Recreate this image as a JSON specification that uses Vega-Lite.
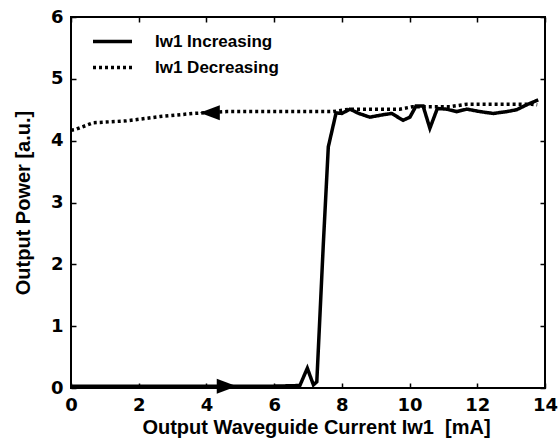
{
  "$schema": "https://vega.github.io/schema/vega-lite/v6.json",
  "autosize": {"type": "none"},
  "padding": {"left": 71, "top": 17, "right": 13, "bottom": 55},
  "width": 474,
  "height": 371,
  "background": "white",
  "config": {
    "view": {"stroke": "black", "strokeWidth": 2},
    "font": "Liberation Sans",
    "axis": {
      "domain": false,
      "grid": false,
      "tickColor": "black",
      "tickWidth": 1.5,
      "tickSize": -5,
      "labelFont": "DejaVu Sans",
      "labelFontWeight": "bold",
      "labelFontSize": 18,
      "labelColor": "black",
      "titleFont": "Liberation Sans",
      "titleFontWeight": "bold",
      "titleFontSize": 20,
      "titleColor": "black"
    }
  },
  "datasets": {
    "curves": [
      {"x": 0, "y": 0.03, "s": "Iw1 Increasing"},
      {"x": 1, "y": 0.03, "s": "Iw1 Increasing"},
      {"x": 2, "y": 0.03, "s": "Iw1 Increasing"},
      {"x": 3, "y": 0.03, "s": "Iw1 Increasing"},
      {"x": 4, "y": 0.03, "s": "Iw1 Increasing"},
      {"x": 5, "y": 0.03, "s": "Iw1 Increasing"},
      {"x": 6, "y": 0.03, "s": "Iw1 Increasing"},
      {"x": 6.76, "y": 0.04, "s": "Iw1 Increasing"},
      {"x": 6.98, "y": 0.32, "s": "Iw1 Increasing"},
      {"x": 7.16, "y": 0.05, "s": "Iw1 Increasing"},
      {"x": 7.26, "y": 0.1, "s": "Iw1 Increasing"},
      {"x": 7.45, "y": 2.3, "s": "Iw1 Increasing"},
      {"x": 7.6, "y": 3.9, "s": "Iw1 Increasing"},
      {"x": 7.83, "y": 4.45, "s": "Iw1 Increasing"},
      {"x": 8.0, "y": 4.44, "s": "Iw1 Increasing"},
      {"x": 8.24, "y": 4.51, "s": "Iw1 Increasing"},
      {"x": 8.5, "y": 4.44, "s": "Iw1 Increasing"},
      {"x": 8.83, "y": 4.38, "s": "Iw1 Increasing"},
      {"x": 9.22, "y": 4.42, "s": "Iw1 Increasing"},
      {"x": 9.47, "y": 4.44, "s": "Iw1 Increasing"},
      {"x": 9.81, "y": 4.33, "s": "Iw1 Increasing"},
      {"x": 10.01, "y": 4.38, "s": "Iw1 Increasing"},
      {"x": 10.19, "y": 4.56, "s": "Iw1 Increasing"},
      {"x": 10.4, "y": 4.56, "s": "Iw1 Increasing"},
      {"x": 10.6, "y": 4.2, "s": "Iw1 Increasing"},
      {"x": 10.82, "y": 4.52, "s": "Iw1 Increasing"},
      {"x": 11.09, "y": 4.51, "s": "Iw1 Increasing"},
      {"x": 11.39, "y": 4.47, "s": "Iw1 Increasing"},
      {"x": 11.69, "y": 4.51, "s": "Iw1 Increasing"},
      {"x": 12.08, "y": 4.47, "s": "Iw1 Increasing"},
      {"x": 12.47, "y": 4.44, "s": "Iw1 Increasing"},
      {"x": 12.87, "y": 4.47, "s": "Iw1 Increasing"},
      {"x": 13.16, "y": 4.5, "s": "Iw1 Increasing"},
      {"x": 13.46, "y": 4.58, "s": "Iw1 Increasing"},
      {"x": 13.8, "y": 4.66, "s": "Iw1 Increasing"},
      {"x": 0, "y": 4.17, "s": "Iw1 Decreasing"},
      {"x": 0.12, "y": 4.18, "s": "Iw1 Decreasing"},
      {"x": 0.66, "y": 4.29, "s": "Iw1 Decreasing"},
      {"x": 1.64, "y": 4.32, "s": "Iw1 Decreasing"},
      {"x": 2.63, "y": 4.39, "s": "Iw1 Decreasing"},
      {"x": 3.61, "y": 4.44, "s": "Iw1 Decreasing"},
      {"x": 4.6, "y": 4.47, "s": "Iw1 Decreasing"},
      {"x": 6, "y": 4.47, "s": "Iw1 Decreasing"},
      {"x": 7.06, "y": 4.47, "s": "Iw1 Decreasing"},
      {"x": 7.74, "y": 4.47, "s": "Iw1 Decreasing"},
      {"x": 8.24, "y": 4.51, "s": "Iw1 Decreasing"},
      {"x": 9.71, "y": 4.51, "s": "Iw1 Decreasing"},
      {"x": 10.1, "y": 4.55, "s": "Iw1 Decreasing"},
      {"x": 11.2, "y": 4.55, "s": "Iw1 Decreasing"},
      {"x": 11.7, "y": 4.59, "s": "Iw1 Decreasing"},
      {"x": 13.6, "y": 4.59, "s": "Iw1 Decreasing"},
      {"x": 13.77, "y": 4.58, "s": "Iw1 Decreasing"}
    ],
    "arrows": [
      {"x": 4.1, "y": 4.45, "dir": "left"},
      {"x": 4.6, "y": 0.03, "dir": "right"}
    ]
  },
  "layer": [
    {
      "data": {"name": "curves"},
      "mark": {"type": "line", "color": "black", "strokeWidth": 3.5, "interpolate": "linear"},
      "encoding": {
        "x": {
          "field": "x", "type": "quantitative",
          "scale": {"domain": [0, 14], "nice": false},
          "axis": {"orient": "bottom", "values": [0, 2, 4, 6, 8, 10, 12, 14], "labelPadding": 13, "title": "Output Waveguide Current Iw1\u00a0 [mA]", "titlePadding": 3, "titleX": 245, "labelFlush": false}
        },
        "y": {
          "field": "y", "type": "quantitative",
          "scale": {"domain": [0, 6], "nice": false},
          "axis": {"orient": "left", "values": [0, 1, 2, 3, 4, 5, 6], "labelPadding": 13, "title": "Output Power [a.u.]", "titlePadding": 17}
        },
        "strokeDash": {
          "field": "s", "type": "nominal",
          "scale": {"domain": ["Iw1 Increasing", "Iw1 Decreasing"], "range": [[1, 0], [3, 3]]},
          "legend": {
            "title": null,
            "orient": "none",
            "legendX": 33,
            "legendY": 16,
            "padding": 0,
            "symbolType": "M-3,0L3,0",
            "symbolSize": 169,
            "symbolStrokeWidth": 3.5,
            "symbolStrokeColor": "black",
            "labelFont": "Liberation Sans",
            "labelFontWeight": "bold",
            "labelFontSize": 17,
            "labelColor": "black",
            "labelOffset": 34,
            "rowPadding": 8
          }
        }
      }
    },
    {
      "data": {"name": "arrows"},
      "mark": {"type": "point", "filled": true, "color": "black", "opacity": 1, "size": 400},
      "encoding": {
        "x": {
          "field": "x", "type": "quantitative",
          "scale": {"domain": [0, 14], "nice": false},
          "axis": {"orient": "top", "values": [0, 2, 4, 6, 8, 10, 12, 14], "labels": false, "title": null}
        },
        "y": {
          "field": "y", "type": "quantitative",
          "scale": {"domain": [0, 6], "nice": false},
          "axis": {"orient": "right", "values": [0, 1, 2, 3, 4, 5, 6], "labels": false, "title": null}
        },
        "shape": {
          "field": "dir", "type": "nominal",
          "scale": {"domain": ["left", "right"], "range": ["M-1,0L1,-0.75L1,0.75Z", "M1,0L-1,-0.75L-1,0.75Z"]},
          "legend": null
        }
      }
    }
  ],
  "resolve": {"axis": {"x": "independent", "y": "independent"}}
}
